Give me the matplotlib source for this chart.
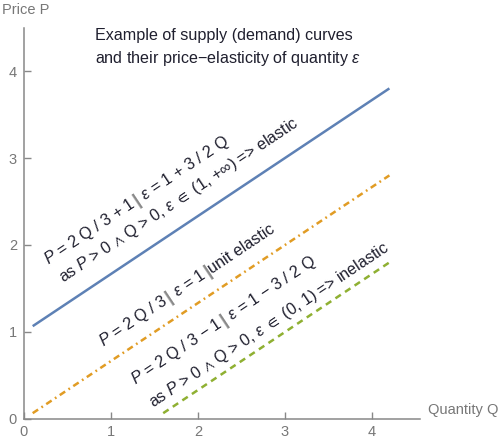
import numpy as np
import matplotlib
matplotlib.use("Agg")
import matplotlib.pyplot as plt
import matplotlib.transforms as mtransforms

plt.rcParams['font.family'] = ['Liberation Sans', 'DejaVu Sans']
plt.rcParams['mathtext.fontset'] = 'custom'
plt.rcParams['mathtext.rm'] = 'Liberation Sans'
plt.rcParams['mathtext.it'] = 'Liberation Sans:italic'
plt.rcParams['mathtext.fallback'] = 'stixsans'

# ---- data ----
elastic_q = [0.1, 4.2]
elastic_p = [1.067, 3.8]
unit_q = [0.1, 4.2]
unit_p = [0.067, 2.8]
inelastic_q = [1.6, 4.2]
inelastic_p = [0.067, 1.8]

x_ticks = [0, 1, 2, 3, 4]
y_ticks = [0, 1, 2, 3, 4]

title_text = "Example of supply (demand) curves\nand their price\u2212elasticity of quantity $\\varepsilon$"

BLUE = '#5E81B5'
ORANGE = '#E19C24'
GREEN = '#8FB032'
AXC = '#888888'
TXT = '#1f1f2e'
FS = 11.6

fig = plt.figure(figsize=(5.0, 4.43), dpi=100)
ax = fig.add_axes([0.048, 0.0542, 0.7917, 0.8837])
ax.set_xlim(0, 4.55)
ax.set_ylim(0, 4.5)

ax.plot(elastic_q, elastic_p, color=BLUE, lw=1.8, solid_capstyle='butt')
ax.plot(unit_q, unit_p, color=ORANGE, lw=1.8, dashes=[2.6, 1.6, 0.7, 1.6])
ax.plot(inelastic_q, inelastic_p, color=GREEN, lw=1.8, dashes=[2.6, 2.0])

for s in ['top', 'right']:
    ax.spines[s].set_visible(False)
for s in ['left', 'bottom']:
    ax.spines[s].set_color(AXC)
    ax.spines[s].set_linewidth(1.1)
ax.set_xticks(x_ticks)
ax.set_yticks(y_ticks)
ax.tick_params(axis='both', direction='in', length=5, width=1, color=AXC,
               labelcolor='#777777', labelsize=10.5)
ax.tick_params(axis='x', pad=4)
ax.tick_params(axis='y', pad=5)

fig.text(0.004, 0.977, "Price P", color='#777777', fontsize=10.5, ha='left', va='center')
fig.text(0.856, 0.074, "Quantity Q", color='#777777', fontsize=10.5, ha='left', va='center')

fig.text(0.19, 0.937, title_text, color=TXT, fontsize=FS, ha='left', va='top',
         linespacing=1.45)

renderer = fig.canvas.get_renderer()
angle = np.degrees(np.arctan(2 / 3))
ca, sa = np.cos(np.radians(angle)), np.sin(np.radians(angle))


def rich(x, y, parts, fs=FS):
    adv = 0.0
    for s, kw in parts:
        props = dict(color=TXT, fontsize=fs)
        props.update(kw)
        tr = mtransforms.offset_copy(ax.transData, fig, x=adv * ca, y=adv * sa, units='dots')
        ax.text(x, y, s, transform=tr, rotation=angle, rotation_mode='anchor',
                ha='left', va='baseline', **props)
        tmp = fig.text(0, 0, s, **props)
        w = tmp.get_window_extent(renderer).width
        tmp.remove()
        adv += w


BAR = dict(color='#8a8a8a', fontweight='bold', fontsize=14)
AND = "$\\wedge$"
IN = "$\\in$"
EPS = "$\\varepsilon$"

rich(0.276, 1.77, [("$P$ = 2 Q / 3 + 1 ", {}), ("|", BAR), (" " + EPS + " = 1 + 3 / 2 Q", {})])
rich(0.448, 1.563, [("as $P$ > 0 " + AND + " Q > 0, " + EPS + " " + IN + " (1, +\u221e) => elastic", {})])
rich(0.908, 0.828, [("$P$ = 2 Q / 3 ", {}), ("|", BAR), (" " + EPS + " = 1 ", {}), ("|", BAR), ("unit elastic", {})])
rich(1.276, 0.391, [("$P$ = 2 Q / 3 \u2212 1 ", {}), ("|", BAR), (" " + EPS + " = 1 \u2212 3 / 2 Q", {})])
rich(1.483, 0.126, [("as $P$ > 0 " + AND + " Q > 0, " + EPS + " " + IN + " (0, 1) => inelastic", {})])

fig.savefig("out.png", dpi=100)
